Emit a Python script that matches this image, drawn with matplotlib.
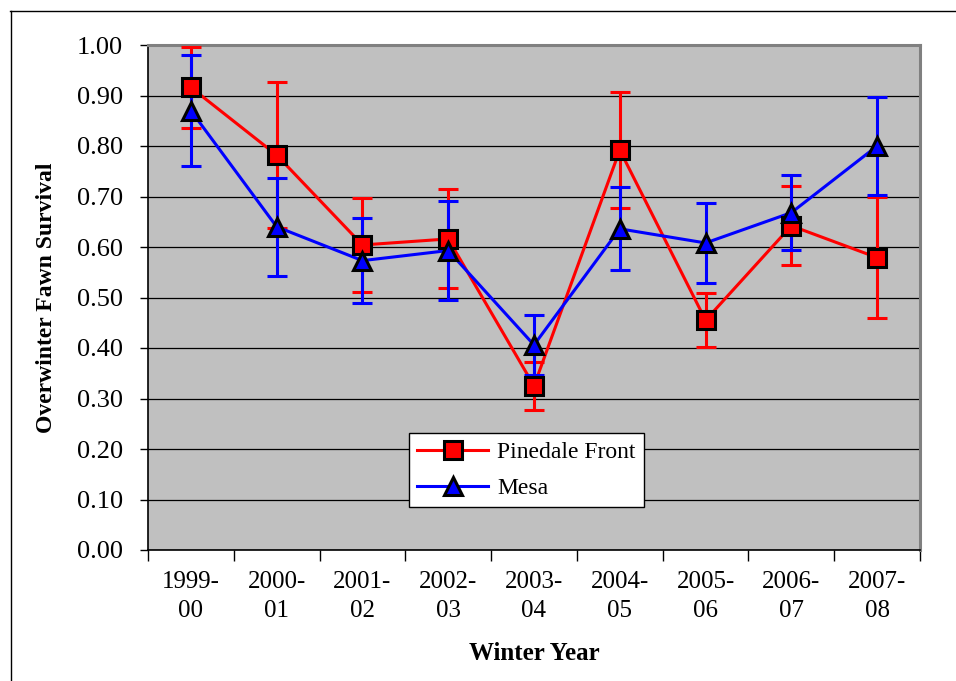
import matplotlib

matplotlib.use("Agg")
import matplotlib.pyplot as plt
from matplotlib.lines import Line2D
import numpy as np

# winter years (two-line tick labels)
years = ["1999-\n00", "2000-\n01", "2001-\n02", "2002-\n03", "2003-\n04",
         "2004-\n05", "2005-\n06", "2006-\n07", "2007-\n08"]

# overwinter fawn survival and error bar half-widths
pinedale = [0.916, 0.782, 0.604, 0.616, 0.325, 0.792, 0.455, 0.642, 0.579]
pinedale_err = [0.080, 0.145, 0.093, 0.098, 0.048, 0.115, 0.053, 0.078, 0.120]
mesa = [0.870, 0.640, 0.573, 0.593, 0.406, 0.636, 0.608, 0.668, 0.800]
mesa_err = [0.110, 0.097, 0.084, 0.098, 0.060, 0.082, 0.080, 0.074, 0.098]

yticks = [0.0, 0.1, 0.2, 0.3, 0.4, 0.5, 0.6, 0.7, 0.8, 0.9, 1.0]


def main() -> None:
    plt.rcParams["font.family"] = ["Liberation Serif", "DejaVu Serif"]

    W, H = 956, 681
    fig = plt.figure(figsize=(W / 100, H / 100), dpi=100)
    ax = fig.add_axes([148 / W, 1 - 550 / H, (920 - 148) / W, (550 - 45) / H])
    ax.set_facecolor("#c0c0c0")

    x = np.arange(len(years))

    # error bars + connecting lines
    ax.errorbar(x, pinedale, yerr=pinedale_err, color="#ff0000", lw=2.2,
                elinewidth=2.2, capsize=7, capthick=2.2, zorder=3)
    ax.errorbar(x, mesa, yerr=mesa_err, color="#0000ff", lw=2.2,
                elinewidth=2.2, capsize=7, capthick=2.2, zorder=4)
    # markers on top
    ax.plot(x, pinedale, ls="none", marker="s", ms=13, mfc="#ff0000",
            mec="black", mew=2.2, zorder=5)
    ax.plot(x, mesa, ls="none", marker="^", ms=13, mfc="#0000ff",
            mec="black", mew=2.2, zorder=6)

    ax.set_xlim(-0.5, len(years) - 0.5)
    ax.set_ylim(0, 1.0)
    ax.set_yticks(yticks)
    ax.set_yticklabels([f"{v:.2f}" for v in yticks], fontsize=19)
    ax.yaxis.grid(True, color="black", lw=0.9)
    ax.set_axisbelow(True)

    # category labels centred, tick marks on the boundaries
    ax.set_xticks(np.arange(-0.5, len(years)), minor=False)
    ax.set_xticklabels([])
    ax.set_xticks(x, minor=True)
    ax.set_xticklabels(years, minor=True, fontsize=18, linespacing=1.45)
    ax.tick_params(axis="x", which="minor", length=0, pad=15)
    ax.tick_params(axis="x", which="major", length=8, width=1, color="black")
    ax.tick_params(axis="y", length=6, width=1, pad=12)

    for side in ("top", "right"):
        ax.spines[side].set_color("#808080")
        ax.spines[side].set_linewidth(2.2)
    for side in ("left", "bottom"):
        ax.spines[side].set_color("black")
        ax.spines[side].set_linewidth(1.2)

    ax.set_xlabel("Winter Year", fontsize=18, fontweight="bold", labelpad=14)
    ax.set_ylabel("Overwinter Fawn Survival", fontsize=17, fontweight="bold",
                  labelpad=14)

    handles = [
        Line2D([], [], color="#ff0000", lw=2.2, marker="s", ms=13,
               mfc="#ff0000", mec="black", mew=2.2),
        Line2D([], [], color="#0000ff", lw=2.2, marker="^", ms=13,
               mfc="#0000ff", mec="black", mew=2.2),
    ]
    leg = ax.legend(handles, ["Pinedale Front", "Mesa"], loc="lower left",
                    bbox_to_anchor=(0.338, 0.085), fontsize=17, frameon=True,
                    fancybox=False, edgecolor="black", framealpha=1,
                    handlelength=3.0, borderpad=0.35, labelspacing=0.6,
                    handletextpad=0.4, borderaxespad=0)
    leg.get_frame().set_linewidth(1.0)
    leg.set_zorder(10)

    # outer chart frame (only the top and left edges are in view)
    fig.add_artist(Line2D([10.5 / W, 10.5 / W], [0, 1 - 11 / H],
                          transform=fig.transFigure, color="black", lw=1))
    fig.add_artist(Line2D([10 / W, 1], [1 - 11 / H, 1 - 11 / H],
                          transform=fig.transFigure, color="black", lw=1))

    fig.savefig("out.png", dpi=100)


if __name__ == "__main__":
    main()
